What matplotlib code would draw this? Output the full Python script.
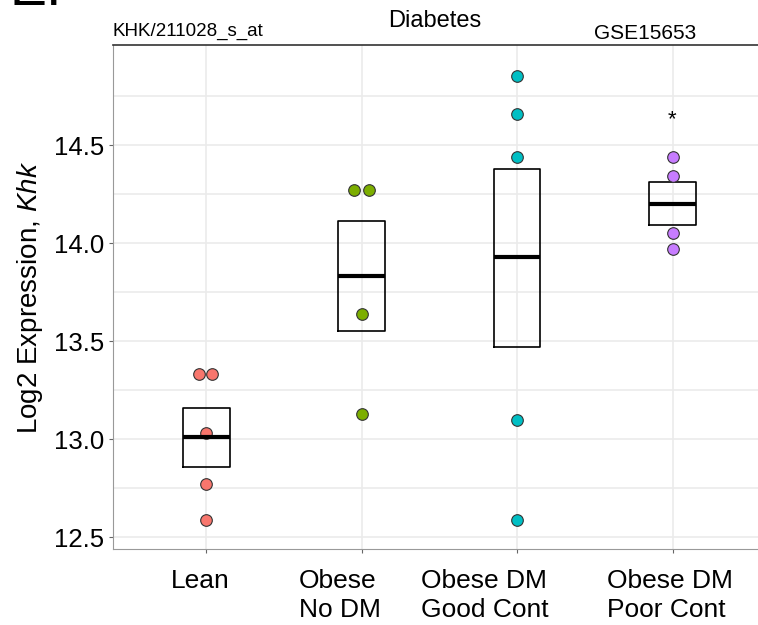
import numpy as np
import matplotlib
matplotlib.use('Agg')
from matplotlib import pyplot as plt
from matplotlib.transforms import ScaledTranslation

plt.rcParams['font.family'] = ['Liberation Sans', 'DejaVu Sans']
plt.rcParams['mathtext.fontset'] = 'custom'
plt.rcParams['mathtext.it'] = 'Liberation Sans:italic'
plt.rcParams['mathtext.rm'] = 'Liberation Sans'

# Gruppene og verdiene lest av figuren
groups = ['Lean', 'Obese\nNo DM', 'Obese DM\nGood Cont', 'Obese DM\nPoor Cont']
colors = ['#F8766D', '#7CAE00', '#00BFC4', '#C77CFF']
points = [
    [13.33, 13.33, 13.03, 12.77, 12.59],
    [14.27, 14.27, 13.64, 13.13],
    [14.85, 14.66, 14.44, 13.10, 12.59],
    [14.44, 14.34, 14.05, 13.97],
]
# liten sideforskyvning for like verdier
jitter = [
    [-0.045, 0.04, 0, 0, 0],
    [-0.05, 0.045, 0, 0],
    [0, 0, 0, 0, 0],
    [0, 0, 0, 0],
]
box_low = [12.86, 13.55, 13.47, 14.09]
box_mid = [13.01, 13.83, 13.93, 14.20]
box_high = [13.16, 14.11, 14.38, 14.31]
stars = ['', '', '', '*']
star_y = 14.63

fig = plt.figure(figsize=(7.58, 6.25), dpi=100)
ax = fig.add_axes([0.149, 0.1216, 0.851, 0.8064])

xs = np.arange(1, len(groups) + 1)
ax.set_xlim(0.4, 4.55)
ax.set_ylim(12.44, 15.01)

# rutenett
ax.set_yticks([12.5, 13.0, 13.5, 14.0, 14.5])
ax.set_yticks([12.75, 13.25, 13.75, 14.25, 14.75], minor=True)
ax.set_xticks(xs)
ax.set_xticklabels(groups)
ax.grid(True, which='both', color='#EBEBEB', lw=1.2, zorder=0)
ax.tick_params(axis='y', which='minor', length=0)
ax.tick_params(axis='both', which='major', color='#666666',
               length=3, labelcolor='black')
ax.tick_params(axis='y', labelsize=18.5)
ax.tick_params(axis='x', labelsize=19, pad=11.5)
ax.set_axisbelow(True)

# etikettene under aksen staar litt til venstre i originalen
label_shift = [-4.3, -15.8, -23, -2.2]
for lab, dx in zip(ax.get_xticklabels(), label_shift):
    lab.set_transform(lab.get_transform() +
                      ScaledTranslation(dx / 72, 0, fig.dpi_scale_trans))
    lab.set_multialignment('left')
    lab.set_linespacing(1.28)

hw = 0.15
for i, x in enumerate(xs):
    ax.plot([x - hw, x + hw, x + hw, x - hw, x - hw],
            [box_low[i], box_low[i], box_high[i], box_high[i], box_low[i]],
            color='black', lw=1.2, zorder=2)
    ax.plot([x - hw, x + hw], [box_mid[i], box_mid[i]], color='black',
            lw=3, zorder=4, solid_capstyle='butt')
    px = x + np.array(jitter[i])
    ax.scatter(px, points[i], s=70, color=colors[i], edgecolor='#333333',
               linewidth=0.8, zorder=3)
    if stars[i]:
        ax.text(x, star_y, stars[i], ha='center', va='center', fontsize=16)

ax.spines['right'].set_visible(False)
ax.spines['left'].set_color('#999999')
ax.spines['bottom'].set_color('#999999')
ax.spines['top'].set_color('#333333')
ax.spines['top'].set_linewidth(1.2)

ax.set_ylabel('Log2 Expression, $\\it{Khk}$', fontsize=20, labelpad=6)

fig.text(0.574, 0.967, 'Diabetes', ha='center', va='center', fontsize=17)
fig.text(0.149, 0.950, 'KHK/211028_s_at', ha='left', va='center', fontsize=13.5)
fig.text(0.851, 0.947, 'GSE15653', ha='center', va='center', fontsize=15)
fig.text(0.012, 1.015, 'E.', ha='left', va='center', fontsize=40)

plt.savefig('out.png', dpi=100)
